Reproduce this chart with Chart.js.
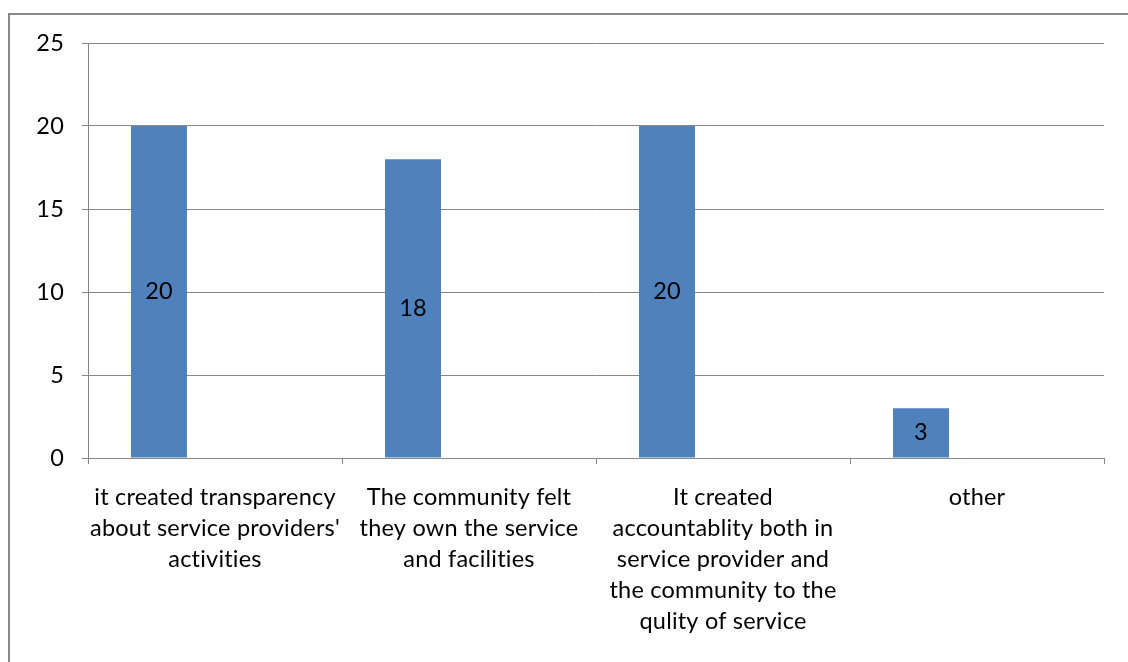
<!DOCTYPE html>
<html>
<head>
<meta charset="utf-8">
<script src="https://cdn.jsdelivr.net/npm/chart.js@4/dist/chart.umd.min.js"></script>
<style>
html,body{margin:0;padding:0;background:#fff;overflow:hidden;}
#wrap{position:relative;width:1128px;height:662px;}
#frame{position:absolute;left:8px;top:13px;width:1200px;height:700px;border:2px solid #898989;box-sizing:border-box;}
canvas{position:absolute;left:0;top:0;}
</style>
</head>
<body>
<div id="wrap">
<div id="frame"></div>
<canvas id="benefitChart" width="1128" height="662"></canvas>
</div>
<script>

const categories=[
["it created transparency","about service providers'","activities"],
["The community felt","they own the service","and facilities"],
["It created","accountablity both in","service provider and","the community to the","qulity of service"],
["other"]
];

const series1=[20,18,20,3];
const series2=[];
const series3=[];

const yTicks=[0,5,10,15,20,25];

const FONT="Lato, 'Open Sans', sans-serif";
const FSIZE=23.5;
const GRAY="#878787";

// tiny letter spacing keeps Lato from joining "ti" into a ligature
const noLigatures={
id:"noLigatures",
beforeDraw(chart){
chart.ctx.letterSpacing="0.2px";
}
};

// value written in the middle of each bar
const barLabels={
id:"barLabels",
afterDatasetsDraw(chart){
const ctx=chart.ctx;
const meta=chart.getDatasetMeta(0);
ctx.save();
ctx.font=`${FSIZE}px ${FONT}`;
ctx.fillStyle="#000";
ctx.textAlign="center";
ctx.textBaseline="middle";
meta.data.forEach((bar,i)=>{
ctx.fillText(String(series1[i]),bar.x,(bar.y+bar.base)/2);
});
ctx.restore();
}
};

new Chart(document.getElementById("benefitChart"),{

type:"bar",

data:{
labels:categories,
datasets:[
{label:"Series1",data:series1,backgroundColor:"#4f81bd",borderWidth:0},
{label:"Series2",data:series2,backgroundColor:"#c0504d",borderWidth:0},
{label:"Series3",data:series3,backgroundColor:"#9bbb59",borderWidth:0}
]
},

options:{
responsive:false,
animation:false,
events:[],
categoryPercentage:168/254,
barPercentage:1,
layout:{padding:{left:0,top:43,right:24,bottom:0}},
plugins:{
legend:{display:false},
tooltip:{enabled:false}
},
scales:{
x:{
offset:true,
grid:{display:true,drawOnChartArea:false,drawTicks:true,tickLength:6,color:GRAY,lineWidth:1,offset:true},
border:{display:true,color:GRAY,width:1},
ticks:{
color:"#000",
font:{family:FONT,size:FSIZE,lineHeight:31/FSIZE},
maxRotation:0,
minRotation:0,
autoSkip:false,
padding:18
},
afterFit(s){s.height=204;}
},
y:{
min:0,
max:25,
afterBuildTicks(s){s.ticks=yTicks.map(v=>({value:v}));},
grid:{color:GRAY,lineWidth:1,tickLength:6,drawTicks:true},
border:{display:true,color:GRAY,width:1},
ticks:{
color:"#000",
font:{family:FONT,size:FSIZE},
padding:18
},
afterFit(s){s.width=88;}
}
}
},

plugins:[noLigatures,barLabels]

});

</script>
</body>
</html>
